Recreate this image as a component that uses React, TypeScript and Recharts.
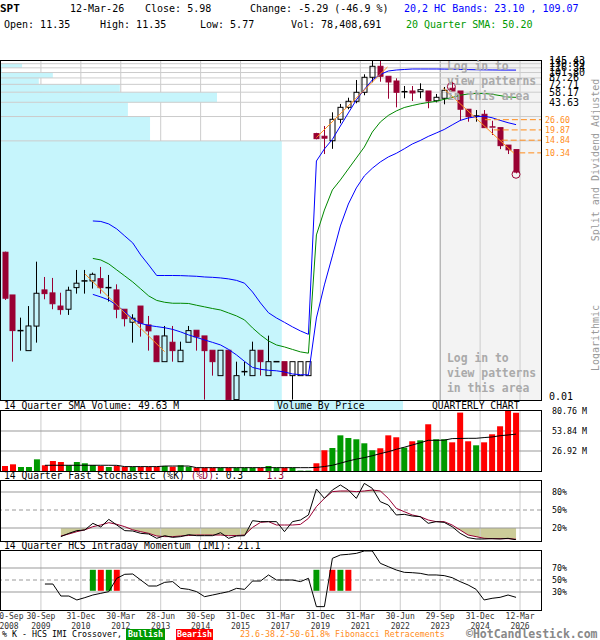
import React from 'react';
import {
  ComposedChart, Bar, Line, Area, XAxis, YAxis, ReferenceLine, ReferenceArea, ReferenceDot, Cell,
} from 'recharts';

const FONT = '"DejaVu Sans Mono", monospace';
const RED_CANDLE = '#990033';
const VOL_UP = '#009900';
const VOL_DN = '#ff0000';
const BLUE = '#0000ff';
const GREEN = '#008800';
const FIB = '#ff8c1a';
const CYAN = '#c6f5fc';
const GRID = '#cccccc';
const GRID_DARK = '#999999';
const KHAKI = '#cccc99';

// quarterly candles, oldest first (split adjusted)
const opens = [0.611, 0.181, 0.0656, 0.0371, 0.0746, 0.209, 0.192, 0.132, 0.1206, 0.223,
  0.270, 0.270, 0.288, 0.223, 0.209, 0.1206, 0.0833, 0.132, 0.0771, 0.0564,
  0.0271, 0.0471, 0.0271, 0.0471, 0.0663, 0.0564, 0.0375, 0.0182, 0.0375, 0.0092,
  0.0204, 0.0182, 0.0375, 0.0182, 0.0271, 0.0271, 0.0182, 0.0182, 0.0182, 17.9,
  16.6, 14.6, 26.9, 37.8, 44.9, 58.0, 88.9, 121.6, 91.5, 80.0,
  59.0, 60.2, 59.0, 60.2, 45.6, 48.9, 65.0, 60.2, 35.8, 29.5,
  31.0, 21.6, 21.2, 12.9, 11.35];
const highs = [0.621, 0.181, 0.0949, 0.132, 0.467, 0.302, 0.294, 0.193, 0.229, 0.369,
  0.369, 0.342, 0.402, 0.320, 0.245, 0.1206, 0.1045, 0.132, 0.0996, 0.0569,
  0.0749, 0.0749, 0.0479, 0.0749, 0.0663, 0.0564, 0.0375, 0.0375, 0.0375, 0.0271,
  0.0271, 0.0479, 0.0375, 0.0569, 0.0272, 0.0271, 0.0271, 0.0271, 0.0271, 18.3,
  22.2, 32.8, 41.6, 49.7, 82.3, 96.8, 142.6, 142.6, 91.5, 86.4,
  69.4, 69.4, 74.9, 60.2, 55.3, 67.5, 78.4, 60.2, 35.8, 35.0,
  35.0, 25.8, 21.2, 12.9, 11.35];
const lows = [0.157, 0.0271, 0.0371, 0.0371, 0.0466, 0.160, 0.1206, 0.1033, 0.1025, 0.188,
  0.188, 0.217, 0.188, 0.150, 0.0933, 0.0739, 0.0466, 0.0553, 0.0371, 0.0271,
  0.0271, 0.0271, 0.0271, 0.0471, 0.0371, 0.0092, 0.0182, 0.0182, 0.0092, 0.0092,
  0.0182, 0.0182, 0.0182, 0.0182, 0.0270, 0.0182, 0.0092, 0.0182, 0.0182, 15.2,
  10.0, 11.6, 24.0, 35.8, 42.4, 53.3, 77.1, 78.4, 48.3, 37.8,
  48.9, 45.3, 48.9, 36.8, 43.6, 41.2, 60.2, 25.8, 25.1, 25.1,
  21.2, 17.2, 11.5, 10.0, 5.77];
const closes = [0.165, 0.0656, 0.0656, 0.0749, 0.190, 0.188, 0.141, 0.1193, 0.207, 0.253,
  0.270, 0.326, 0.223, 0.223, 0.1206, 0.0922, 0.0933, 0.0809, 0.0651, 0.0271,
  0.0564, 0.0371, 0.0375, 0.0656, 0.0549, 0.0371, 0.0271, 0.0375, 0.0092, 0.0182,
  0.0204, 0.0375, 0.0271, 0.0271, 0.0271, 0.0182, 0.0271, 0.0271, 0.0271, 15.5,
  15.7, 26.9, 37.8, 44.9, 58.0, 88.9, 121.6, 91.5, 77.8, 58.0,
  59.0, 56.9, 62.5, 45.3, 50.3, 61.4, 60.2, 35.8, 29.0, 29.5,
  21.2, 20.8, 12.7, 11.27, 5.98];

// volume in millions
const volumes = [6.7, 9.0, 5.4, 5.4, 15.7, 7.7, 13.5, 12.1, 7.7, 12.1,
  10.4, 8.1, 6.7, 5.4, 6.7, 5.4, 5.4, 5.4, 5.4, 5.4,
  6.7, 5.8, 7.7, 5.8, 4.5, 4.5, 4.5, 4.5, 4.5, 4.5,
  4.5, 4.5, 4.5, 6.7, 4.5, 4.5, 4.5, 0.5, 0.5, 10.4,
  27.9, 31.0, 48.0, 44.4, 42.7, 37.3, 27.9, 30.6, 48.0, 45.4,
  31.5, 40.0, 41.3, 62.9, 42.7, 42.7, 38.6, 78.6, 40.0, 34.6,
  38.6, 49.4, 60.2, 84.0, 78.4];
const volumeSma = [null, null, null, null, null, 7.7, 7.7, 7.7, 7.7, 7.7,
  7.7, 7.7, 7.7, 7.7, 7.6, 5.9, 5.9, 5.9, 5.9, 5.9,
  6.7, 6.7, 6.7, 6.7, 4.5, 4.5, 4.5, 4.5, 4.5, 4.5,
  4.5, 4.5, 4.5, 4.5, 4.5, 4.5, 4.5, 4.5, 4.5, 4.8,
  6.0, 7.7, 10.5, 13.5, 16.0, 18.0, 20.5, 23.4, 26.0, 29.2,
  32.0, 35.0, 38.0, 41.3, 41.3, 41.5, 43.6, 43.8, 44.0, 44.0,
  45.0, 45.8, 47.5, 48.5, 49.63];

const upperBand = [null, null, null, null, null, null, null, null, null, null,
  null, 1.488, 1.467, 1.366, 1.185, 0.971, 0.796, 0.565, 0.425, 0.315,
  0.315, 0.315, 0.314, 0.311, 0.308, 0.302, 0.299, 0.294, 0.286, 0.274,
  0.253, 0.197, 0.144, 0.109, 0.094, 0.083, 0.073, 0.065, 0.059, 8.2,
  11.55, 15.2, 22.2, 32.2, 46.6, 62.8, 82.3, 96.3, 106.3, 109.4,
  111.0, 112.6, 112.6, 112.6, 112.6, 112.3, 112.0, 111.3, 110.6, 110.2,
  109.8, 109.5, 109.3, 109.2, 109.07];
const sma20 = [null, null, null, null, null, null, null, null, null, null,
  null, 0.512, 0.490, 0.438, 0.369, 0.311, 0.262, 0.215, 0.176, 0.155,
  0.147, 0.143, 0.143, 0.142, 0.135, 0.129, 0.123, 0.118, 0.1085, 0.0996,
  0.0889, 0.0708, 0.0580, 0.0489, 0.0436, 0.0412, 0.0384, 0.0358, 0.0345, 1.0,
  2.03, 3.60, 4.78, 6.54, 8.94, 12.2, 18.7, 24.9, 30.0, 34.1,
  37.6, 39.8, 41.8, 43.4, 44.9, 47.5, 50.0, 53.3, 55.3, 56.2,
  56.1, 54.8, 52.8, 50.7, 50.2];
const lowerBand = [null, null, null, null, null, null, null, null, null, null,
  null, 0.184, 0.171, 0.157, 0.135, 0.112, 0.0915, 0.0805, 0.0760, 0.0735,
  0.0712, 0.0679, 0.0632, 0.0580, 0.0540, 0.0503, 0.0469, 0.0436, 0.0384, 0.0328,
  0.0273, 0.0230, 0.0218, 0.0212, 0.0209, 0.0202, 0.0191, 0.0187, 0.0186, 0.094,
  0.241, 0.55, 1.29, 2.41, 3.81, 5.36, 6.67, 7.98, 9.2, 10.2,
  11.6, 13.3, 14.7, 16.5, 18.2, 20.1, 22.9, 26.0, 27.9, 28.9,
  29.4, 28.1, 26.1, 24.4, 23.10];

const stochK = [null, null, null, null, null, null, null, 5.6, 11.1, 15.6,
  16.7, 27.8, 21.7, 34.4, 25, 15.6, 15, 11.1, 10, 2.8,
  7.2, 4.4, 5.6, 8.9, 7.2, 7.2, 7.2, 12.2, 2.8, 6.7,
  7.2, 32.2, 30.6, 30.6, 30.6, 13.9, 30.6, 33.3, 41.7, 85,
  69.4, 83.3, 91.7, 83.3, 69.4, 94.4, 86.1, 63.9, 58.3, 41.7,
  42.8, 40, 38.9, 27.8, 30.6, 29.4, 22.2, 11.1, 3.9, 1.7,
  1.7, 2.2, 1.7, 2.8, 0.3];
const stochD = [null, null, null, null, null, null, null, 6.7, 10, 13.9,
  17, 22.2, 25, 28.9, 26.1, 22.2, 17, 13.9, 11.1, 6.7,
  5.6, 5.6, 6.7, 7.5, 8.3, 8.3, 8.3, 8.3, 7.2, 7.5,
  8.3, 21, 29.4, 30.6, 25, 25, 25, 26, 36, 55.6,
  69.4, 80.6, 81.7, 81.7, 80.6, 81.7, 83.3, 81.7, 69.4, 52.8,
  47.2, 41.7, 38.9, 33.3, 30.6, 30.6, 25, 16.7, 8.3, 5.6,
  2.8, 2.2, 2.2, 2.2, 1.3];

const imi = [null, null, null, null, null, 43.3, 43.3, 23.3, 23.3, 16.7,
  20.6, 25, 27.8, 30.6, 52.8, 59.5, 60, 50, 40, 40,
  46.1, 47.3, 36.1, 34.4, 30.6, 22.2, 25, 27.8, 30.6, 36.1,
  34.4, 48.3, 48.3, 58.4, 50, 50, 50, 47.3, 52.8, 5.6,
  5.6, 86.1, 91.7, 92.8, 94.4, 98.4, 98.4, 77.8, 72.2, 66.7,
  62.8, 62.2, 61.1, 58.4, 58.4, 57.3, 53.9, 47.3, 41.7, 34.4,
  16.7, 19.5, 21.1, 25, 21.1];
const imiBullish = [11, 13, 39, 42];
const imiBearish = [12, 14, 41, 43];
const crossSpan = [32, 67];

const dateLabels = [
  ['30-Sep', '2008'], ['30-Sep', '2009'], ['31-Dec', '2010'], ['30-Mar', '2012'],
  ['28-Jun', '2013'], ['30-Sep', '2014'], ['31-Dec', '2015'], ['31-Mar', '2017'],
  ['31-Dec', '2019'], ['31-Mar', '2021'], ['30-Jun', '2022'], ['29-Sep', '2023'],
  ['31-Dec', '2024'], ['12-Mar', '2026'],
];

const priceGrid = [14.54, 29.09, 43.63, 58.17, 72.71, 87.26, 101.80, 116.34, 130.89, 145.43];
const priceLabels = [0.01, 43.63, 58.17, 72.71, 87.26, 101.80, 116.34, 130.89, 145.43];
// volume by price, % of the plot width, lowest price band first
const volumeByPrice = [52, 27.6, 23.5, 40, 22, 7, 9.6, 0.2, 3.9];
const fibLevels = [26.60, 19.87, 14.84, 10.34];
const fibStart = [60.1, 61.2, 62.2, 64.4];
const trendLines = [
  [[10, 0.33], [20, 0.036]],
  [[39, 16.0], [47.9, 119]],
  [[54.9, 65.0], [63.75, 10.2]],
];
const patternMarks = [[55.9, 68.0], [64, 5.62]];
const volumeTicks = [26.92, 53.84, 80.76];

const X_DOMAIN: [number, number] = [-0.5, 67.125];
const X_SPAN = X_DOMAIN[1] - X_DOMAIN[0];
const PRICE_DOMAIN: [number, number] = [0.0091, 145.43];
const PATTERN_ZONE = 54.5;
const gridX = dateLabels.slice(1).map((_, k) => 5 * (k + 1) - 0.5);
const labelX = dateLabels.map((_, k) => 5 * k - 0.5);
const bandEdges = [0, ...priceGrid];

const rows = opens.map((o, i) => ({
  i,
  candle: [lows[i], highs[i]],
  open: o,
  high: highs[i],
  low: lows[i],
  close: closes[i],
  upper: upperBand[i],
  sma: sma20[i],
  lower: lowerBand[i],
  vol: volumes[i],
  volSma: volumeSma[i],
  k: stochK[i],
  d: stochD[i],
  dLow: stochD[i] == null ? null : [Math.min(stochD[i] as number, 20), 20],
  dHigh: stochD[i] == null ? null : [80, Math.max(stochD[i] as number, 80)],
  imi: imi[i],
  cross: imiBullish.includes(i) || imiBearish.includes(i) ? crossSpan : null,
}));

const Candle = (props: any) => {
  const { x, y, width, height, payload } = props;
  if (!payload || x == null || y == null) return null;
  const { open, close, high, low } = payload;
  const top = Math.log10(high);
  const span = top - Math.log10(low) || 1;
  const py = (v: number) => y + ((top - Math.log10(v)) / span) * height;
  const up = close >= open;
  const color = up ? '#000' : RED_CANDLE;
  const cx = Math.round(x + width / 2) + 0.5;
  const bTop = py(Math.max(open, close));
  const bBot = py(Math.min(open, close));
  return (
    <g>
      <line x1={cx} x2={cx} y1={y} y2={bTop} stroke={color} />
      <line x1={cx} x2={cx} y1={bBot} y2={y + height} stroke={color} />
      {bBot - bTop < 1.5 ? (
        <line x1={cx - 3} x2={cx + 3} y1={bTop} y2={bTop} stroke={color} strokeWidth={1.5} />
      ) : (
        <rect x={cx - 2.5} y={bTop} width={5} height={bBot - bTop}
          fill={up ? 'none' : color} stroke={color} />
      )}
    </g>
  );
};

const PriceTick = (props: any) => {
  const { x, y, payload } = props;
  const fib = fibLevels.includes(payload.value);
  return (
    <text x={x + (fib ? 4 : 8)} y={y} dy="0.35em" fontSize={fib ? 8.3 : 10}
      fill={fib ? FIB : '#000'} fontFamily={FONT}>
      {payload.value.toFixed(2)}
    </text>
  );
};

const SmallTick = (suffix: string) => (props: any) => {
  const { x, y, payload } = props;
  const txt = suffix === ' M' ? payload.value.toFixed(2) + suffix : payload.value + suffix;
  return (
    <text x={x + 11} y={y} dy="0.35em" fontSize={8.3} fill="#000" fontFamily={FONT}>{txt}</text>
  );
};

const DateTick = (props: any) => {
  const { x, y, payload } = props;
  const k = Math.round((payload.value + 0.5) / 5);
  const lbl = dateLabels[k];
  if (!lbl) return null;
  const cx = Math.max(x, 9);
  return (
    <text x={cx} y={y} textAnchor="middle" fontSize={8} fill="#333" fontFamily={FONT}>
      <tspan x={cx} dy={9}>{lbl[0]}</tspan>
      <tspan x={cx} dy={10}>{lbl[1]}</tspan>
    </text>
  );
};

const vGrid = (dark?: boolean) =>
  gridX.map((v) => (
    <ReferenceLine key={`vx${v}`} x={v} stroke={dark && v === PATTERN_ZONE ? GRID_DARK : GRID}
      ifOverflow="hidden" zIndex={2} />
  ));

const PriceChart = () => (
  <ComposedChart width={600} height={410} data={rows} margin={{ top: 60, right: 0, bottom: 10, left: 1 }}>
    <XAxis dataKey="i" type="number" domain={X_DOMAIN} ticks={gridX} allowDataOverflow hide />
    <YAxis orientation="right" scale="log" type="number" domain={PRICE_DOMAIN} allowDataOverflow
      ticks={[...priceLabels, ...fibLevels]} interval={0} width={59} axisLine={false} tickLine={false}
      tickSize={0} tickMargin={0} tick={<PriceTick />} />
    <ReferenceArea x1={PATTERN_ZONE} x2={X_DOMAIN[1]} y1={PRICE_DOMAIN[0]} y2={PRICE_DOMAIN[1]}
      fill="#f3f3f3" fillOpacity={1} stroke="none" ifOverflow="hidden" zIndex={1} />
    {vGrid(true)}
    {volumeByPrice.map((v, k) => (
      <ReferenceArea key={`vbp${k}`} x1={X_DOMAIN[0]} x2={X_DOMAIN[0] + (v / 100) * X_SPAN}
        y1={Math.max(bandEdges[k], PRICE_DOMAIN[0])} y2={bandEdges[k + 1]}
        fill={CYAN} fillOpacity={1} stroke="none" ifOverflow="hidden" zIndex={3} />
    ))}
    {priceGrid.map((v) => (
      <ReferenceLine key={`hy${v}`} y={v} stroke={GRID} ifOverflow="hidden" zIndex={4} />
    ))}
    <Bar dataKey="candle" barSize={5} isAnimationActive={false}
      shape={(p: any) => <Candle {...p} />} />
    <Line type="linear" dataKey="upper" stroke={BLUE} strokeWidth={1} dot={false} isAnimationActive={false} />
    <Line type="linear" dataKey="sma" stroke={GREEN} strokeWidth={1} dot={false} isAnimationActive={false} />
    <Line type="linear" dataKey="lower" stroke={BLUE} strokeWidth={1} dot={false} isAnimationActive={false} />
    {trendLines.map((t, k) => (
      <ReferenceLine key={`tl${k}`} segment={[{ x: t[0][0], y: t[0][1] }, { x: t[1][0], y: t[1][1] }]}
        stroke={FIB} strokeWidth={1} ifOverflow="visible" zIndex={450} />
    ))}
    {fibLevels.map((lv, k) => (
      <ReferenceLine key={`fib${k}`} segment={[{ x: fibStart[k], y: lv }, { x: X_DOMAIN[1], y: lv }]}
        stroke={FIB} strokeWidth={1} strokeDasharray="6 3" ifOverflow="visible" zIndex={450} />
    ))}
    {patternMarks.map((m, k) => (
      <ReferenceDot key={`pm${k}`} x={m[0]} y={m[1]} r={4} fill="none" stroke={RED_CANDLE}
        ifOverflow="visible" zIndex={500} />
    ))}
  </ComposedChart>
);

const VolumeChart = () => (
  <ComposedChart width={600} height={72} data={rows} margin={{ top: 6, right: 0, bottom: 6, left: 1 }}>
    <XAxis dataKey="i" type="number" domain={X_DOMAIN} ticks={gridX} allowDataOverflow hide />
    <YAxis orientation="right" type="number" domain={[0, 80.76]} allowDataOverflow ticks={volumeTicks}
      interval={0} width={59} axisLine={false} tickLine={false} tickSize={0} tickMargin={0}
      tick={SmallTick(' M')} />
    {vGrid()}
    {volumeTicks.slice(0, 2).map((v) => (
      <ReferenceLine key={`vy${v}`} y={v} stroke={GRID_DARK} zIndex={4} />
    ))}
    <Bar dataKey="vol" barSize={6} isAnimationActive={false}>
      {rows.map((r) => (
        <Cell key={`vc${r.i}`} fill={r.close >= r.open ? VOL_UP : VOL_DN} />
      ))}
    </Bar>
    <Line type="linear" dataKey="volSma" stroke="#000" strokeWidth={1} dot={false} isAnimationActive={false} />
  </ComposedChart>
);

const StochChart = () => (
  <ComposedChart width={600} height={72} data={rows} margin={{ top: 6, right: 0, bottom: 6, left: 1 }}>
    <XAxis dataKey="i" type="number" domain={X_DOMAIN} ticks={gridX} allowDataOverflow hide />
    <YAxis orientation="right" type="number" domain={[0, 100]} allowDataOverflow ticks={[20, 50, 80]}
      interval={0} width={59} axisLine={false} tickLine={false} tickSize={0} tickMargin={0}
      tick={SmallTick('%')} />
    <Area type="linear" dataKey="dLow" stroke="none" fill={KHAKI} fillOpacity={1}
      isAnimationActive={false} zIndex={1} />
    <Area type="linear" dataKey="dHigh" stroke="none" fill={KHAKI} fillOpacity={1}
      isAnimationActive={false} zIndex={1} />
    {vGrid()}
    <ReferenceLine y={20} stroke={GRID_DARK} zIndex={4} />
    <ReferenceLine y={80} stroke={GRID_DARK} zIndex={4} />
    <ReferenceLine y={50} stroke={GRID_DARK} strokeDasharray="4 3" zIndex={4} />
    <Line type="linear" dataKey="d" stroke={RED_CANDLE} strokeWidth={1} dot={false} isAnimationActive={false} />
    <Line type="linear" dataKey="k" stroke="#000" strokeWidth={1} dot={false} isAnimationActive={false} />
  </ComposedChart>
);

const ImiChart = () => (
  <ComposedChart width={600} height={96} data={rows} margin={{ top: 6, right: 0, bottom: 4, left: 1 }}>
    <XAxis dataKey="i" type="number" domain={X_DOMAIN} ticks={labelX} interval={0} allowDataOverflow
      axisLine={false} tickLine={false} tickSize={0} tickMargin={0} height={26} tick={<DateTick />} />
    <YAxis orientation="right" type="number" domain={[0, 100]} allowDataOverflow ticks={[30, 50, 70]}
      interval={0} width={59} axisLine={false} tickLine={false} tickSize={0} tickMargin={0}
      tick={SmallTick('%')} />
    {vGrid()}
    <ReferenceLine y={30} stroke={GRID_DARK} zIndex={4} />
    <ReferenceLine y={70} stroke={GRID_DARK} zIndex={4} />
    <ReferenceLine y={50} stroke={GRID_DARK} strokeDasharray="4 3" zIndex={4} />
    <Bar dataKey="cross" barSize={6} isAnimationActive={false}>
      {rows.map((r) => (
        <Cell key={`cc${r.i}`} fill={imiBullish.includes(r.i) ? VOL_UP : VOL_DN} />
      ))}
    </Bar>
    <Line type="linear" dataKey="imi" stroke="#000" strokeWidth={1} dot={false} isAnimationActive={false} />
  </ComposedChart>
);

const Txt = ({ x, y, children, color = '#000', size = 10, bold = false, lh = 12 }: any) => (
  <div style={{
    position: 'absolute', left: x, top: y, fontSize: size, color, fontWeight: bold ? 'bold' : 'normal',
    whiteSpace: 'pre', lineHeight: `${lh}px`, fontFamily: FONT,
  }}>{children}</div>
);

const Frame = ({ top, height }: any) => (
  <div style={{
    position: 'absolute', left: 0, top, width: 542, height, border: '1px solid #000',
    boxSizing: 'border-box', pointerEvents: 'none',
  }} />
);

const LoginNote = ({ top }: any) => (
  <div style={{
    position: 'absolute', left: 447, top, fontSize: 11.4, lineHeight: '15px', color: '#aaaaaa',
    fontWeight: 'bold', fontFamily: FONT, whiteSpace: 'pre',
  }}>
    {'Log in to\nview patterns\nin this area'}
  </div>
);

const Vertical = ({ x, y, children }: any) => (
  <div style={{
    position: 'absolute', left: x, top: y, transform: 'translate(-50%, -50%) rotate(-90deg)',
    fontSize: 10, color: '#999', fontFamily: FONT, whiteSpace: 'pre',
  }}>{children}</div>
);

export default function App() {
  return (
    <div style={{
      position: 'absolute', left: 0, top: 0, width: 600, height: 640, background: '#fff',
      overflow: 'hidden', fontFamily: FONT,
    }}>
      <Txt x={0} y={3} size={11} bold>SPT</Txt>
      <Txt x={70} y={3}>12-Mar-26</Txt>
      <Txt x={145} y={3}>Close: 5.98</Txt>
      <Txt x={250} y={3}>Change: -5.29 (-46.9 %)</Txt>
      <Txt x={404} y={3} color={BLUE}>20,2 HC Bands: 23.10 , 109.07</Txt>
      <Txt x={4} y={19}>Open: 11.35</Txt>
      <Txt x={100} y={19}>High: 11.35</Txt>
      <Txt x={200} y={19}>Low: 5.77</Txt>
      <Txt x={291} y={19}>Vol: 78,408,691</Txt>
      <Txt x={406} y={19} color="#009900">20 Quarter SMA: 50.20</Txt>

      <div style={{ position: 'absolute', left: 0, top: 0 }}><PriceChart /></div>
      <Frame top={60} height={341} />
      <LoginNote top={59} />
      <LoginNote top={351} />

      <Txt x={4} y={400} size={9.7}>14 Quarter SMA Volume: 49.63 M</Txt>
      <div style={{ position: 'absolute', left: 274, top: 401, width: 129, height: 10, background: CYAN }} />
      <Txt x={277} y={400} size={9.7}>Volume By Price</Txt>
      <Txt x={432} y={400} size={9.7}>QUARTERLY CHART</Txt>
      <div style={{ position: 'absolute', left: 0, top: 405 }}><VolumeChart /></div>
      <Frame top={410} height={62} />

      <Txt x={4} y={470} size={9.7}>
        {'14 Quarter Fast Stochastic (%K) '}
        <span style={{ color: RED_CANDLE }}>(%D)</span>
        {': 0.3    '}
        <span style={{ color: RED_CANDLE }}>1.3</span>
      </Txt>
      <div style={{ position: 'absolute', left: 0, top: 474 }}><StochChart /></div>
      <Frame top={480} height={62} />

      <Txt x={4} y={540} size={9.7}>14 Quarter HCS Intraday Momentum (IMI): 21.1</Txt>
      <div style={{ position: 'absolute', left: 0, top: 544 }}><ImiChart /></div>
      <Frame top={550} height={61} />

      <Vertical x={595} y={160}>Split and Dividend Adjusted</Vertical>
      <Vertical x={595} y={338}>Logarithmic</Vertical>

      <Txt x={2} y={629} size={8.3} lh={11}>% K - HCS IMI Crossover,</Txt>
      <div style={{
        position: 'absolute', left: 126, top: 629, width: 39, height: 11, background: VOL_UP, color: '#fff',
        fontSize: 8.3, fontWeight: 'bold', textAlign: 'center', lineHeight: '11px', fontFamily: FONT,
      }}>Bullish</div>
      <div style={{
        position: 'absolute', left: 176, top: 629, width: 37, height: 11, background: VOL_DN, color: '#fff',
        fontSize: 8.3, fontWeight: 'bold', textAlign: 'center', lineHeight: '11px', fontFamily: FONT,
      }}>Bearish</div>
      <Txt x={240} y={629} size={8.3} lh={11} color={FIB}>23.6-38.2-50-61.8% Fibonacci Retracements</Txt>
      <Txt x={466} y={628} size={11.5} lh={12} color="#888" bold>©HotCandlestick.com</Txt>
    </div>
  );
}
